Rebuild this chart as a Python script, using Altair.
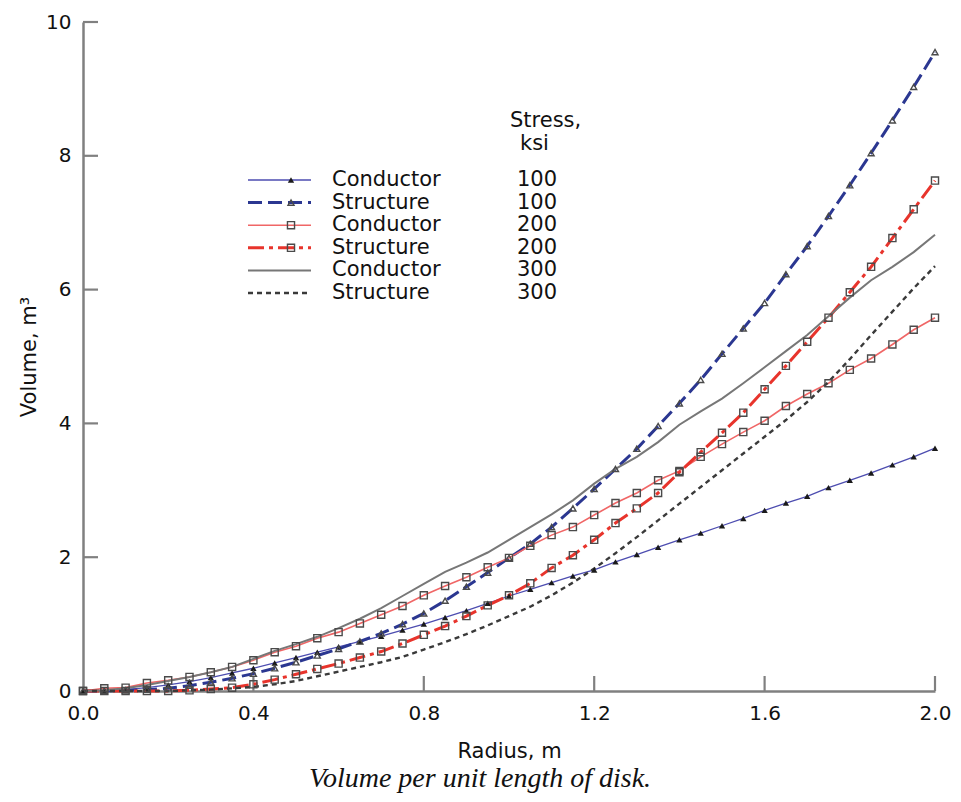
import altair as alt
import pandas as pd

radius = [0.00, 0.05, 0.10, 0.15, 0.20, 0.25, 0.30, 0.35, 0.40, 0.45,
          0.50, 0.55, 0.60, 0.65, 0.70, 0.75, 0.80, 0.85, 0.90, 0.95,
          1.00, 1.05, 1.10, 1.15, 1.20, 1.25, 1.30, 1.35, 1.40, 1.45,
          1.50, 1.55, 1.60, 1.65, 1.70, 1.75, 1.80, 1.85, 1.90, 1.95, 2.00]

cond_100 = [0.00, 0.01, 0.02, 0.05, 0.09, 0.14, 0.20, 0.27, 0.34, 0.42,
            0.50, 0.58, 0.66, 0.74, 0.82, 0.91, 1.00, 1.10, 1.20, 1.31,
            1.42, 1.52, 1.62, 1.72, 1.81, 1.93, 2.04, 2.15, 2.26, 2.36,
            2.47, 2.58, 2.70, 2.81, 2.91, 3.04, 3.15, 3.26, 3.38, 3.50, 3.63]
struct_100 = [0.00, 0.00, 0.01, 0.02, 0.04, 0.08, 0.13, 0.19, 0.26, 0.34,
              0.43, 0.53, 0.63, 0.74, 0.86, 1.00, 1.16, 1.35, 1.56, 1.77,
              1.99, 2.20, 2.45, 2.73, 3.02, 3.32, 3.62, 3.96, 4.30, 4.65,
              5.04, 5.42, 5.80, 6.23, 6.65, 7.10, 7.56, 8.04, 8.53, 9.03, 9.55]
cond_200 = [0.00, 0.04, 0.05, 0.12, 0.16, 0.21, 0.28, 0.36, 0.46, 0.58,
            0.67, 0.79, 0.88, 1.01, 1.14, 1.27, 1.43, 1.57, 1.70, 1.85,
            1.99, 2.17, 2.33, 2.45, 2.63, 2.81, 2.96, 3.15, 3.29, 3.50,
            3.69, 3.87, 4.04, 4.26, 4.44, 4.60, 4.80, 4.97, 5.18, 5.40, 5.58]
struct_200 = [0.00, 0.00, 0.00, 0.00, 0.00, 0.01, 0.03, 0.05, 0.10, 0.17,
              0.25, 0.33, 0.41, 0.50, 0.59, 0.71, 0.84, 0.97, 1.12, 1.28,
              1.43, 1.61, 1.84, 2.03, 2.26, 2.51, 2.73, 2.96, 3.27, 3.57,
              3.86, 4.16, 4.51, 4.86, 5.22, 5.58, 5.96, 6.34, 6.77, 7.20, 7.63]
cond_300 = [0.00, 0.01, 0.04, 0.09, 0.15, 0.21, 0.28, 0.36, 0.48, 0.60,
            0.70, 0.81, 0.94, 1.08, 1.24, 1.42, 1.60, 1.78, 1.92, 2.07,
            2.26, 2.45, 2.64, 2.85, 3.10, 3.32, 3.50, 3.72, 3.98, 4.18,
            4.37, 4.60, 4.84, 5.08, 5.32, 5.60, 5.88, 6.14, 6.34, 6.56, 6.82]
struct_300 = [0.00, 0.00, 0.00, 0.00, 0.00, 0.01, 0.02, 0.04, 0.06, 0.10,
              0.15, 0.22, 0.29, 0.36, 0.43, 0.51, 0.62, 0.73, 0.85, 0.98,
              1.12, 1.26, 1.43, 1.62, 1.83, 2.06, 2.30, 2.55, 2.80, 3.05,
              3.30, 3.55, 3.80, 4.05, 4.32, 4.62, 4.96, 5.32, 5.67, 6.02, 6.35]

legend_material = ["Conductor", "Structure", "Conductor", "Structure", "Conductor", "Structure"]
legend_stress = ["100", "100", "200", "200", "300", "300"]
x_ticks = [0.0, 0.4, 0.8, 1.2, 1.6, 2.0]
y_ticks = [0, 2, 4, 6, 8, 10]

series_values = [cond_100, struct_100, cond_200, struct_200, cond_300, struct_300]
styles = [
    dict(color="#4d4db0", width=1.3, dash=None, shape="triangle-up", filled=True, msize=40),
    dict(color="#2b3791", width=3.0, dash=[14, 6], shape="triangle-up", filled=False, msize=36),
    dict(color="#f06666", width=1.6, dash=None, shape="square", filled=False, msize=50),
    dict(color="#e8342c", width=3.0, dash=[16, 5, 4, 5], shape="square", filled=False, msize=50),
    dict(color="#777777", width=2.0, dash=None, shape=None),
    dict(color="#3a3a3a", width=2.4, dash=[5, 4], shape=None),
]

W, H = 852, 669
FONT = "DejaVu Sans"
xs = alt.Scale(domain=[0, 2], nice=False, zero=False)
ys = alt.Scale(domain=[0, 10], nice=False)

layers = []

base_axes = alt.Chart(pd.DataFrame({"r": [0.0], "v": [0.0]})).mark_point(opacity=0).encode(
    x=alt.X("r:Q", scale=xs, title="Radius, m",
            axis=alt.Axis(values=x_ticks, format=".1f", ticks=False, grid=False,
                          labelFlush=False, labelPadding=12, titlePadding=17)),
    y=alt.Y("v:Q", scale=ys, title="Volume, m³",
            axis=alt.Axis(values=y_ticks, format="d", ticks=False, grid=False,
                          labelFlush=False, labelPadding=12, titlePadding=6)),
)
layers.append(base_axes)

xt = alt.Chart(pd.DataFrame({"t": x_ticks[1:]})).mark_rule(color="#808080", strokeWidth=2.2).encode(
    x=alt.X("t:Q", scale=xs), y=alt.value(H), y2=alt.value(H - 15))
yt = alt.Chart(pd.DataFrame({"t": y_ticks[1:]})).mark_rule(color="#808080", strokeWidth=2.2).encode(
    y=alt.Y("t:Q", scale=ys), x=alt.value(0), x2=alt.value(15))
layers += [xt, yt]

for vals, st in zip(series_values, styles):
    df = pd.DataFrame({"r": radius, "v": vals})
    kw = dict(color=st["color"], strokeWidth=st["width"])
    if st["dash"]:
        kw["strokeDash"] = st["dash"]
    layers.append(alt.Chart(df).mark_line(**kw).encode(
        x=alt.X("r:Q", scale=xs), y=alt.Y("v:Q", scale=ys)))


def marker_props(st):
    if st["filled"]:
        return dict(shape=st["shape"], filled=True, color="#1a1a1a", size=st["msize"], opacity=1)
    return dict(shape=st["shape"], filled=False, color="#4a4a4a", size=st["msize"],
                strokeWidth=1.4, opacity=1)


for vals, st in zip(series_values, styles):
    if not st["shape"]:
        continue
    df = pd.DataFrame({"r": radius, "v": vals})
    layers.append(alt.Chart(df).mark_point(**marker_props(st)).encode(
        x=alt.X("r:Q", scale=xs), y=alt.Y("v:Q", scale=ys)))

# custom legend inside the plot area
row_y = [158 + 22.6 * i for i in range(6)]
leg_x0, leg_x1, leg_mx = 165, 228, 208
one = pd.DataFrame({"a": [0]})
for i, st in enumerate(styles):
    kw = dict(color=st["color"], strokeWidth=st["width"])
    if st["dash"]:
        kw["strokeDash"] = st["dash"]
    layers.append(alt.Chart(one).mark_rule(**kw).encode(
        x=alt.value(leg_x0), x2=alt.value(leg_x1), y=alt.value(row_y[i])))
    if st["shape"]:
        layers.append(alt.Chart(one).mark_point(**marker_props(st)).encode(
            x=alt.value(leg_mx), y=alt.value(row_y[i])))

leg_df = pd.DataFrame({"mat": legend_material, "stress": legend_stress, "py": row_y})
txt = dict(baseline="middle", font=FONT, fontSize=21, color="#111111")
layers.append(alt.Chart(leg_df).mark_text(align="left", **txt).encode(
    x=alt.value(249), y=alt.Y("py:Q", scale=None), text="mat:N"))
layers.append(alt.Chart(leg_df).mark_text(align="left", **txt).encode(
    x=alt.value(434), y=alt.Y("py:Q", scale=None), text="stress:N"))
layers.append(alt.Chart(one).mark_text(align="left", **txt).encode(
    x=alt.value(427), y=alt.value(99), text=alt.value("Stress,")))
layers.append(alt.Chart(one).mark_text(align="left", **txt).encode(
    x=alt.value(437), y=alt.value(122), text=alt.value("ksi")))

layers.append(alt.Chart(one).mark_text(align="center", baseline="middle", font="Liberation Serif",
                                       fontStyle="italic", fontSize=28, color="#111111").encode(
    x=alt.value(397), y=alt.value(757), text=alt.value("Volume per unit length of disk.")))

chart = alt.layer(*layers).properties(
    width=W, height=H,
    padding={"left": 75, "top": 14, "right": 18, "bottom": 103},
    autosize=alt.AutoSizeParams(type="none"),
).configure_view(stroke=None).configure_axis(
    domainColor="#808080", domainWidth=2.5,
    labelFont=FONT, labelFontSize=20, labelColor="#111111",
    titleFont=FONT, titleFontSize=21, titleColor="#111111", titleFontWeight="normal",
)

chart.save("out.html", embed_options={"renderer": "svg", "actions": False})
